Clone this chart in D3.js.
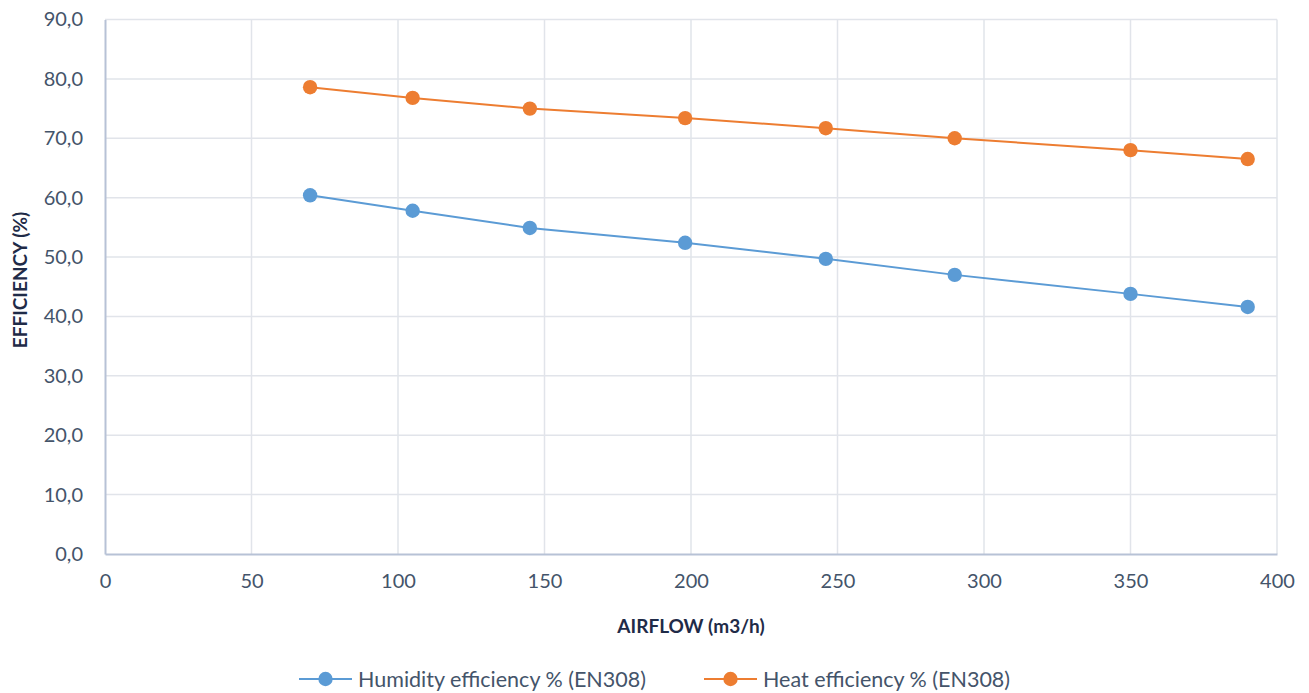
<!DOCTYPE html>
<html>
<head>
<meta charset="utf-8">
<script src="https://cdn.jsdelivr.net/npm/d3@7"></script>
<style>
  body { margin: 0; background: #fff; }
  svg text { font-family: Lato, "Open Sans", sans-serif; }
</style>
</head>
<body>
<div id="chart"></div>
<script>
// airflow values (m3/h)
var airflow = [70, 105, 145, 198, 246, 290, 350, 390];
var humidityEff = [60.4, 57.8, 54.9, 52.4, 49.7, 47.0, 43.8, 41.6];
var heatEff = [78.6, 76.8, 75.0, 73.4, 71.7, 70.0, 68.0, 66.5];
var seriesNames = ["Humidity efficiency % (EN308)", "Heat efficiency % (EN308)"];
var seriesColors = ["#5b9bd5", "#ed7d31"];
var xTicks = [0, 50, 100, 150, 200, 250, 300, 350, 400];
var yTicks = [0, 10, 20, 30, 40, 50, 60, 70, 80, 90];

var width = 1309, height = 693;
var margin = {left: 105, right: 32, top: 19.5, bottom: 139};

var svg = d3.select("#chart").append("svg")
    .attr("width", width).attr("height", height);

var x = d3.scaleLinear().domain([0, 400]).range([margin.left, width - margin.right]);
var y = d3.scaleLinear().domain([0, 90]).range([height - margin.bottom, margin.top]);

var fmt = function(d){ return d3.format(".1f")(d).replace(".", ","); };

// gridlines
svg.append("g")
  .selectAll("line.h")
  .data(yTicks.slice(1))
  .enter().append("line")
    .attr("x1", x(0)).attr("x2", x(400))
    .attr("y1", function(d){ return y(d); })
    .attr("y2", function(d){ return y(d); })
    .style("stroke", "#e1e4ea").style("stroke-width", 1.5);

svg.append("g")
  .selectAll("line.v")
  .data(xTicks.slice(1))
  .enter().append("line")
    .attr("x1", function(d){ return x(d); })
    .attr("x2", function(d){ return x(d); })
    .attr("y1", y(0)).attr("y2", y(90))
    .style("stroke", "#e1e4ea").style("stroke-width", 1.5);

// axes
var xAxis = svg.append("g")
    .attr("transform", "translate(0," + y(0) + ")")
    .call(d3.axisBottom(x).tickValues(xTicks).tickSize(0).tickPadding(20));
var yAxis = svg.append("g")
    .attr("transform", "translate(" + x(0) + ",0)")
    .call(d3.axisLeft(y).tickValues(yTicks).tickSize(0).tickPadding(22).tickFormat(fmt));

[xAxis, yAxis].forEach(function(a){
  a.select(".domain").style("stroke", "#b7c2d6").style("stroke-width", 2);
  a.selectAll("text").style("font-size", "20px").style("fill", "#44546a");
});

// axis titles
svg.append("text")
  .attr("x", (x(0) + x(400)) / 2).attr("y", 633)
  .attr("text-anchor", "middle")
  .style("font-size", "19px").style("font-weight", "bold").style("fill", "#1f2b48")
  .text("AIRFLOW (m3/h)");

svg.append("text")
  .attr("transform", "translate(27," + 280 + ") rotate(-90)")
  .attr("text-anchor", "middle")
  .style("font-size", "19px").style("font-weight", "bold").style("fill", "#1f2b48")
  .text("EFFICIENCY (%)");

// series
var series = [humidityEff, heatEff];
var line = d3.line()
  .x(function(d, i){ return x(airflow[i]); })
  .y(function(d){ return y(d); });

series.forEach(function(vals, s){
  svg.append("path")
    .datum(vals)
    .attr("d", line)
    .style("fill", "none")
    .style("stroke", seriesColors[s])
    .style("stroke-width", 2);

  svg.append("g")
    .selectAll("circle")
    .data(vals)
    .enter().append("circle")
      .attr("cx", function(d, i){ return x(airflow[i]); })
      .attr("cy", function(d){ return y(d); })
      .attr("r", 7.2)
      .style("fill", seriesColors[s]);
});

// legend
var legendX = [299, 704];
var legend = svg.append("g")
  .selectAll("g")
  .data(seriesNames)
  .enter().append("g")
    .attr("transform", function(d, i){ return "translate(" + legendX[i] + ",679)"; });

legend.append("line")
  .attr("x1", 0).attr("x2", 53)
  .style("stroke", function(d, i){ return seriesColors[i]; })
  .style("stroke-width", 2);
legend.append("circle")
  .attr("cx", 26.5).attr("r", 7.2)
  .style("fill", function(d, i){ return seriesColors[i]; });
legend.append("text")
  .attr("x", 59).attr("dy", "0.35em")
  .style("font-size", "21.5px").style("fill", "#44546a")
  .text(function(d){ return d; });
</script>
</body>
</html>
